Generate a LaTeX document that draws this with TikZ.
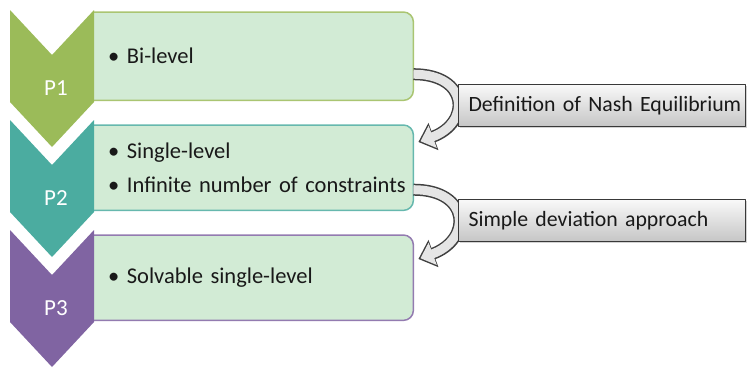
\documentclass[tikz,border=0pt]{standalone}
\usepackage{fontspec}
\setmainfont{Carlito}
\usetikzlibrary{arrows.meta,backgrounds,shadows}
\definecolor{pgreen}{HTML}{9BBB59}
\definecolor{pteal}{HTML}{4BACA0}
\definecolor{ppurple}{HTML}{8064A2}
\definecolor{boxfill}{HTML}{D2EBD5}
\newcommand{\stageitem}[1]{\mbox{\textbullet\ #1}}
\tikzset{
every picture/.style={line join=round},
plabel/.style={text=white, inner sep=0pt, font=\fontsize{23}{23}\selectfont},
itembox/.style={anchor=north west, text width=291pt, inner xsep=14pt, inner ysep=0pt,
  align=left, text=black!90, font=\fontsize{22.5}{34}\selectfont},
stagebox/.style={fill=boxfill, draw=#1, line width=1.5pt, rounded corners=10pt},
callout/.style={anchor=north west, minimum width=287pt, minimum height=42pt,
  text width=267pt, inner xsep=10pt, align=left, top color=gray!5, bottom color=gray!45,
  draw=gray!45!black, line width=1pt, text=black!90, font=\fontsize{21.8}{22}\selectfont,
  drop shadow={shadow xshift=1.5pt, shadow yshift=-1.5pt, opacity=0.35}},
bendarrow/.style={line width=12pt, draw=gray!50!black, -{Triangle[length=16pt,width=28pt]}},
bendarrowin/.style={line width=9pt, draw=gray!20, shorten >=2.2pt, -{Triangle[length=13pt,width=23pt]}}
}
\begin{document}
\begin{tikzpicture}[x=1pt, y=-1pt]
  \useasboundingbox (0,0) rectangle (747,372);
  % stages
  \foreach \i/\t/\top/\bot/\col/\txt in {
      1/10/12/100/pgreen/{\stageitem{Bi-level}},
      2/120/125/210/pteal/{\stageitem{Single-level}\\\stageitem{Infinite number of constraints}},
      3/230/235/320/ppurple/{\stageitem{Solvable single-level}}} {
    \pgfmathsetmacro{\h}{\bot-\top}
    \node[itembox, minimum height=\h pt] (b\i) at (94,\top) {\txt};
    \begin{scope}[on background layer]
      \draw[stagebox=\col!85] (b\i.north west) -- (b\i.north east) -- (b\i.south east) -- (b\i.south west);
    \end{scope}
    \fill[\col] (10,\t) -- (52,\t+45) -- (94,\t) -- (94,\t+92) -- (52,\t+137) -- (10,\t+92) -- cycle;
    \node[plabel] (p\i) at (56,\t+78) {P\i};
  }
  % bent arrows
  \draw[bendarrow] ([yshift=-18pt]b1.east) to[out=0, in=20, looseness=2.1] ([xshift=5pt,yshift=-17pt]b2.north east);
  \draw[bendarrowin] ([yshift=-18pt]b1.east) to[out=0, in=20, looseness=2.1] ([xshift=5pt,yshift=-17pt]b2.north east);
  \draw[bendarrow] ([yshift=-22pt]b2.east) to[out=0, in=20, looseness=2.1] ([xshift=5pt,yshift=-24pt]b3.north east);
  \draw[bendarrowin] ([yshift=-22pt]b2.east) to[out=0, in=20, looseness=2.1] ([xshift=5pt,yshift=-24pt]b3.north east);
  % callouts
  \node[callout] (c1) at (458,84) {\mbox{Definition of Nash Equilibrium}};
  \node[callout] (c2) at (458,199) {\mbox{Simple deviation approach}};
\end{tikzpicture}
\end{document}
